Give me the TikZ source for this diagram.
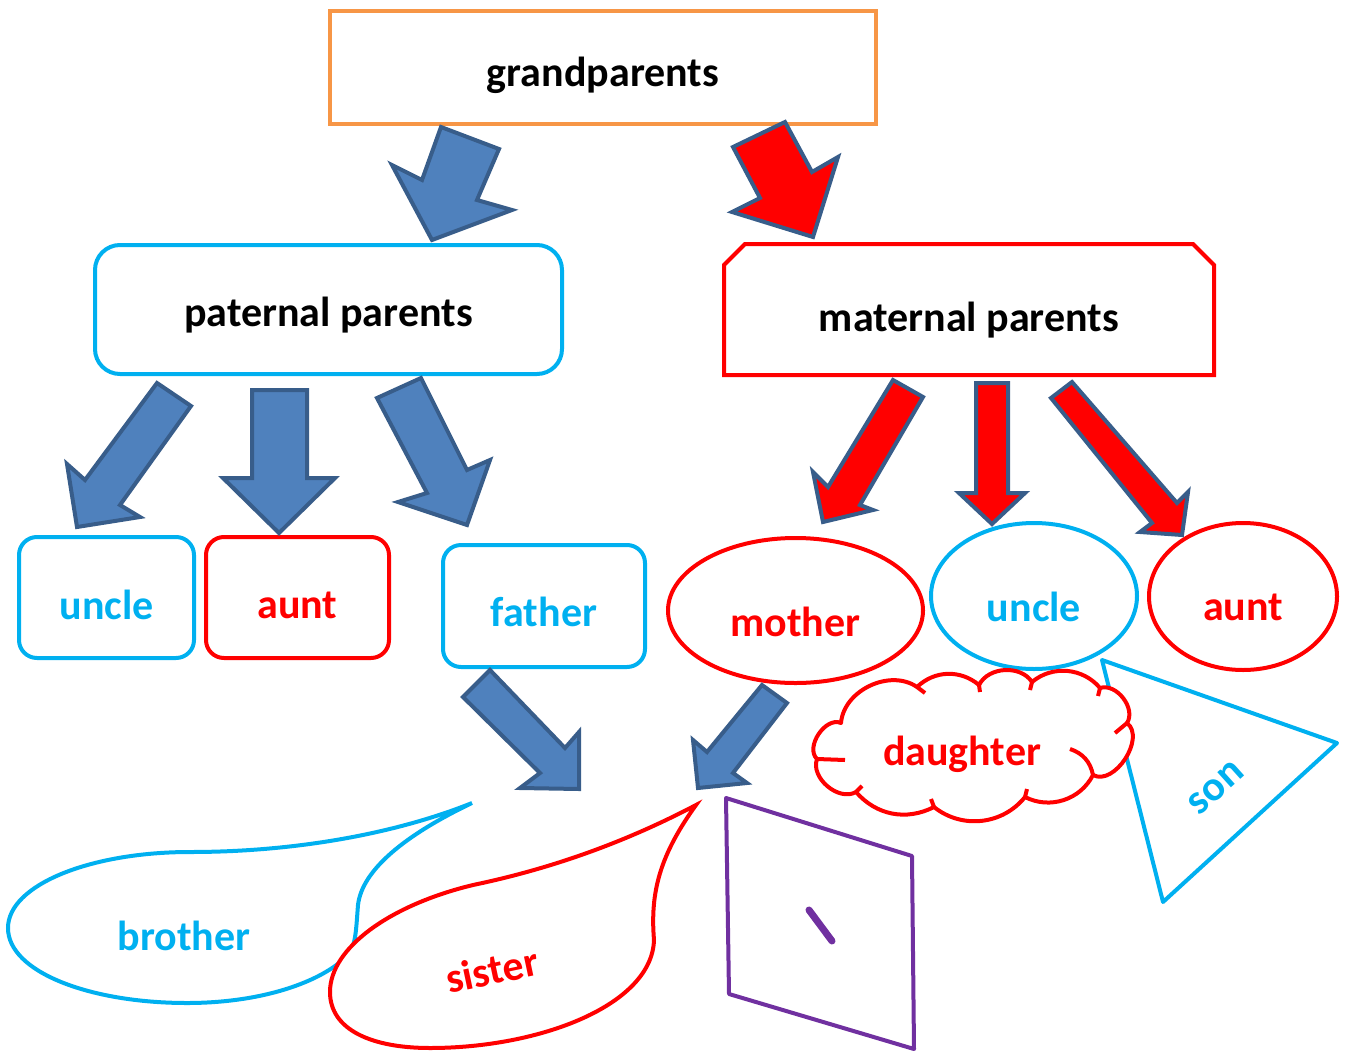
\documentclass[tikz,border=0pt]{standalone}
\usepackage{fontspec}
\setmainfont{Carlito}
\usetikzlibrary{shapes.geometric}
\definecolor{cyanc}{HTML}{00B0F0}
\definecolor{redc}{HTML}{FF0000}
\definecolor{orangec}{HTML}{F79646}
\definecolor{arrowfill}{HTML}{4F81BD}
\definecolor{arrowline}{HTML}{385D8A}
\definecolor{purplec}{HTML}{7030A0}
\begin{document}
\begin{tikzpicture}[x=1pt,y=-1pt,
  txt/.style={font=\fontsize{42}{50}\selectfont\bfseries, inner sep=0pt},
  shapeline/.style={line width=4pt, inner sep=0pt},
  bluearrow/.style={fill=arrowfill, draw=arrowline, line width=4pt, line join=miter},
  redarrow/.style={fill=redc, draw=arrowline, line width=4pt, line join=miter}]
\useasboundingbox (0,0) rectangle (1346,1052);

% top level
\node[shapeline, draw=orangec, line width=3.5pt, minimum width=546pt, minimum height=113pt,
  label={[txt, yshift=-8pt]center:grandparents}] (grand) at (603,67.5) {};
\node[shapeline, draw=cyanc, rounded corners=25pt, minimum width=467pt, minimum height=129pt,
  label={[txt, yshift=-6pt]center:paternal parents}] (pat) at (328.5,309.5) {};
\node[shapeline, outer sep=0pt, minimum width=490pt, minimum height=131pt,
  label={[txt, yshift=-11pt]center:maternal parents}] (mat) at (969,309.5) {};
\draw[redc, line width=4pt, line join=miter]
  ([yshift=-21pt]mat.north west) -- ([xshift=21pt]mat.north west)
  -- ([xshift=-21pt]mat.north east) -- ([yshift=-21pt]mat.north east)
  -- (mat.south east) -- (mat.south west) -- cycle;

% children of paternal
\node[shapeline, draw=cyanc, rounded corners=18pt, minimum width=175pt, minimum height=121pt,
  label={[txt, text=cyanc, yshift=-7pt]center:uncle}] (uncleP) at (106.5,597.5) {};
\node[shapeline, draw=redc, rounded corners=18pt, minimum width=183pt, minimum height=121pt,
  label={[txt, text=redc, yshift=-8pt]center:aunt}] (auntP) at (297.5,597.5) {};
\node[shapeline, draw=cyanc, rounded corners=18pt, minimum width=202pt, minimum height=122pt,
  label={[txt, text=cyanc, yshift=-6pt]center:father}] (father) at (544,606) {};

% children of maternal
\node[shapeline, draw=redc, ellipse, minimum width=255pt, minimum height=145pt,
  label={[txt, text=redc, yshift=-11pt]center:mother}] (mother) at (795.5,610.5) {};

% son triangle
\coordinate (s1) at (1102,660);
\coordinate (s2) at (1337,743);
\coordinate (s3) at (1163,902);
\draw[cyanc, line width=4pt, line join=round] (s1) -- (s2) -- (s3) -- cycle;
\node[txt, text=cyanc, rotate=42] (son) at (1216,788) {son};

\node[shapeline, draw=cyanc, ellipse, minimum width=206pt, minimum height=146pt,
  label={[txt, text=cyanc, yshift=-11pt]center:uncle}] (uncleM) at (1034,596) {};
\node[shapeline, draw=redc, ellipse, minimum width=188pt, minimum height=147pt,
  label={[txt, text=redc, yshift=-11pt]center:aunt}] (auntM) at (1243,596.5) {};

% cloud
\draw[redc, line width=4pt, fill=white, line join=round]
  (917,687) to[bend left=42] (979,685) to[bend left=60] (1032,682) to[bend left=45] (1100,688)
  to[bend left=70] (1127,723) to[bend left=85] (1093,775) to[bend left=45] (1025,797)
  to[bend left=45] (934,807) to[bend left=38] (856,792) to[bend left=70] (817,759)
  to[bend left=80] (841,723) to[bend left=60] (917,687) -- cycle;
\draw[redc, line width=4pt]
  (817,759) -- (845,760)
  (856,792) -- (862,786)
  (934,807) -- (931,799)
  (1025,797) -- (1027,789)
  (1093,775) to[bend right=30] (1070,749)
  (1127,723) -- (1115,733)
  (1100,688) -- (1098,696)
  (1032,682) -- (1030,690)
  (979,685) -- (980,692)
  (917,687) -- (925,693);
\node[txt, text=redc] (daughter) at (962,754) {daughter};

% parallelogram
\coordinate (p1) at (726,798);
\coordinate (p2) at (912,856);
\coordinate (p3) at (914,1049);
\coordinate (p4) at (729,994);
\draw[purplec, line width=4pt, line join=round] (p1) -- (p2) -- (p3) -- (p4) -- cycle;
\coordinate (c1) at (809,910);
\coordinate (c2) at (832,941);
\draw[purplec, line width=7pt, line cap=round] (c1) -- (c2);

% speech bubbles
\draw[cyanc, line width=4pt, fill=white]
  (472,803) .. controls (400,832) and (300,852) .. (190,852)
  .. controls (90,852) and (8,885) .. (8,928)
  .. controls (8,972) and (90,1003) .. (187,1003)
  .. controls (262,1003) and (322,982) .. (348,955)
  .. controls (356,945) and (356,930) .. (358,905)
  .. controls (362,870) and (405,835) .. (472,803) -- cycle;
\node[txt, text=cyanc] (brother) at (184,936) {brother};
\draw[redc, line width=4pt, fill=white]
  (696,805) .. controls (620,845) and (545,870) .. (473,885)
  .. controls (390,905) and (330,948) .. (330,992)
  .. controls (330,1030) and (372,1048) .. (430,1048)
  .. controls (540,1048) and (652,1005) .. (654,940)
  .. controls (650,892) and (660,855) .. (696,805) -- cycle;
\node[txt, text=redc, rotate=12] (sister) at (492,970) {sister};

% block arrows
\draw[bluearrow] (432,240) -- (392,165) -- (422,180) -- (441,127) -- (499,149) -- (477,200) -- (512,210) -- cycle;
\draw[redarrow] (813,237) -- (732,212) -- (760,198) -- (733,147) -- (785,122) -- (812,172) -- (838,157) -- cycle;
\draw[bluearrow] (77,527) -- (67,464) -- (85,480) -- (157,383) -- (191,406) -- (120,505) -- (140,517) -- cycle;
\draw[bluearrow] (252,390) -- (307,390) -- (307,478) -- (335,478) -- (279,533) -- (223,478) -- (252,478) -- cycle;
\draw[bluearrow] (467,525) -- (398,502) -- (427,493) -- (377,398) -- (421,378) -- (467,470) -- (490,460) -- cycle;
\draw[redarrow] (823,522) -- (813,472) -- (828,487) -- (893,380) -- (923,397) -- (860,505) -- (873,510) -- cycle;
\draw[redarrow] (976,383) -- (1008,383) -- (1008,493) -- (1025,493) -- (992,524) -- (959,493) -- (976,493) -- cycle;
\draw[redarrow] (1182,535) -- (1140,532) -- (1152,523) -- (1051,398) -- (1072,382) -- (1177,503) -- (1188,492) -- cycle;
\draw[bluearrow] (579,789) -- (520,788) -- (540,773) -- (463,697) -- (490,670) -- (565,748) -- (579,732) -- cycle;
\draw[bluearrow] (698,788) -- (693,740) -- (707,752) -- (762,685) -- (787,703) -- (733,773) -- (747,783) -- cycle;
\end{tikzpicture}
\end{document}
